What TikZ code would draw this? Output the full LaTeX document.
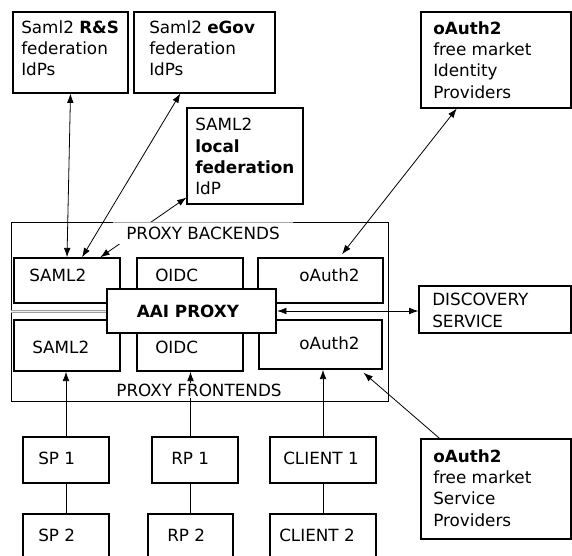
\documentclass[tikz,border=0pt]{standalone}
\usepackage{fontspec}
\setmainfont{DejaVu Sans}
\usetikzlibrary{calc,arrows.meta}

% rectangle node given by its corners (x1,y1) and (x2,y2), in picture units
\newcommand\pxbox[6]{%
  \node[#6, minimum width={(#4-#2)*0.75pt}, minimum height={(#5-#3)*0.75pt}]
    (#1) at ({(#2+#4)/2},{(#3+#5)/2}) {};}

\tikzset{
  plainbox/.style={draw, line width=0.8pt, inner sep=0pt, fill=white},
  modbox/.style={draw, line width=1.1pt, inner sep=0pt, fill=white},
  corebox/.style={draw, line width=1.6pt, inner sep=0pt, fill=white},
  groupbox/.style={draw, line width=0.6pt, inner sep=0pt},
  txt/.style={inner sep=0pt, align=left, anchor=north west},
  lbl/.style={inner sep=0pt, anchor=west},
  link/.style={line width=0.6pt},
  tip/.tip={Latex[length=7pt,width=5pt]},
  twoway/.style={link, tip-tip},
  oneway/.style={link, -tip},
  divider/.style={draw=gray!75, line width=0.45pt, double=gray!15, double distance=0.9pt},
}

\begin{document}
\begin{tikzpicture}[x=0.75pt, y=-0.75pt, font=\fontsize{12.6}{16}\selectfont]
\useasboundingbox (0,0) rectangle (572,556);

% proxy group frame
\pxbox{proxy}{11}{222}{388}{401}{groupbox}

% identity providers
\pxbox{rs}{13}{12}{128}{93}{plainbox}
\node[txt] (rstxt) at (21,20) {Saml2 \textbf{R\&S}\\federation\\IdPs};
\pxbox{egov}{134}{12}{275}{93}{plainbox}
\node[txt] (egovtxt) at (149,20) {Saml2 \textbf{eGov}\\federation\\IdPs};
\pxbox{local}{187}{108}{303}{204}{plainbox}
\node[txt] (localtxt) at (195,118) {SAML2\\\textbf{local}\\\textbf{federation}\\IdP};
\pxbox{oidp}{421}{12}{571}{108}{plainbox}
\node[txt] (oidptxt) at (433,21) {\textbf{oAuth2}\\free market\\Identity\\Providers};

% discovery service
\pxbox{disc}{419}{286}{571}{333}{plainbox}
\node[txt] (disctxt) at (432,293) {DISCOVERY\\SERVICE};

% divider between backends and frontends
\draw[divider] (proxy.west |- 0,311.5) -- (107,311.5) coordinate (divend);

% backends
\pxbox{bsaml}{14}{258}{120}{303}{modbox}
\node[lbl] (bsamltxt) at (29,275) {SAML2};
\pxbox{boidc}{137}{258}{243}{303}{modbox}
\node[lbl] (boidctxt) at (155,275) {OIDC};
\pxbox{boauth}{258}{258}{383}{303}{modbox}
\node[lbl] (boauthtxt) at (299,275) {oAuth2};

% frontends
\pxbox{fsaml}{14}{320}{120}{371}{modbox}
\node[lbl] (fsamltxt) at (32,347) {SAML2};
\pxbox{foidc}{137}{320}{243}{371}{modbox}
\node[lbl] (foidctxt) at (155,347) {OIDC};
\pxbox{foauth}{259}{320}{382}{369}{modbox}
\node[lbl] (foauthtxt) at (299,343) {oAuth2};

% the proxy core
\pxbox{aai}{107}{289}{276}{333}{corebox}
\node[inner sep=0pt] (aaitxt) at (188,311) {\textbf{AAI PROXY}};

% service side
\pxbox{sp1}{23}{437}{109}{483}{plainbox}
\node[lbl] (sp1txt) at (38,458) {SP 1};
\pxbox{sp2}{23}{514}{109}{562}{plainbox}
\node[lbl] (sp2txt) at (38,535) {SP 2};
\pxbox{rp1}{152}{437}{238}{483}{plainbox}
\node[lbl] (rp1txt) at (171,458) {RP 1};
\pxbox{rp2}{148}{514}{233}{562}{plainbox}
\node[lbl] (rp2txt) at (167,535) {RP 2};
\pxbox{cl1}{270}{437}{376}{483}{plainbox}
\node[lbl] (cl1txt) at (283,458) {CLIENT 1};
\pxbox{cl2}{270}{514}{376}{562}{plainbox}
\node[lbl] (cl2txt) at (279,535) {CLIENT 2};
\pxbox{osp}{421}{439}{571}{539}{plainbox}
\node[txt] (osptxt) at (433,449) {\textbf{oAuth2}\\free market\\Service\\Providers};

% connectors to identity providers
\draw[twoway] (rs.south) -- (bsaml.north);
\draw[twoway] ($(egov.south west)!0.33!(egov.south east)$) -- ($(bsaml.north west)!0.64!(bsaml.north east)$);
\draw[twoway] ($(local.south west)+(0,-7)$) -- ($(bsaml.north west)!0.81!(bsaml.north east)$);
\draw[twoway] ($(oidp.south west)!0.24!(oidp.south east)$) -- ($(boauth.north west)!0.67!(boauth.north east)+(0,-3)$);
\draw[twoway] (aai.east) -- (aai.east -| disc.west);

% connectors to services
\draw[oneway] (sp1.north) -- (sp1.north |- fsaml.south);
\draw[oneway] (rp2.north |- rp1.north) -- (rp2.north |- foidc.south);
\draw[oneway] (cl1.north) -- (cl1.north |- foauth.south);
\draw[oneway] ($(osp.north west)!0.127!(osp.north east)$) -- ($(foauth.south west)!0.846!(foauth.south east)+(0,3)$);
\draw[link] (sp1.south) -- (sp2.north);
\draw[link] (rp2.north |- rp1.south) -- (rp2.north);
\draw[link] (cl1.south) -- (cl2.north);

% group captions; the backend caption dims the frame edge it sits on
\node[fill=white, inner sep=0pt, minimum width=135pt, minimum height=16.5pt] (backcap) at (203,233.5) {PROXY BACKENDS};
\draw[gray!70, line width=0.7pt] (backcap.north west) -- (backcap.north east);
\node[fill=white, inner xsep=2pt, inner ysep=1pt] (frontcap) at (199,390.5) {PROXY FRONTENDS};
\end{tikzpicture}
\end{document}
